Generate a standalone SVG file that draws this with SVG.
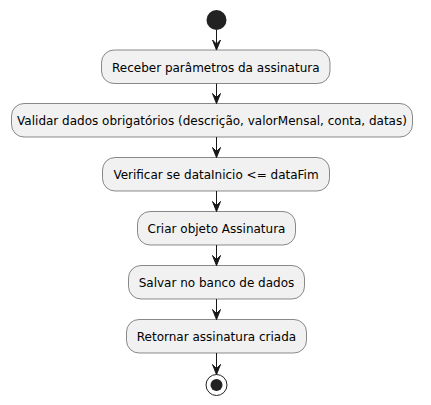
<svg xmlns="http://www.w3.org/2000/svg" width="431" height="405" viewBox="0 0 431 405">
<defs>
<style>
.box{fill:#F1F1F1;stroke:#181818;stroke-width:0.5}
.t{font-family:"DejaVu Sans",sans-serif;font-size:12px;fill:#000000;text-anchor:middle}
.ln{stroke:#181818;stroke-width:1;fill:none}
.ah{fill:#181818;stroke:#181818;stroke-width:1}
</style>
</defs>
<rect width="431" height="405" fill="#FFFFFF"/>
<g id="start"><circle cx="216.5" cy="20" r="10" fill="#222222"/></g>
<g id="n1"><rect class="box" x="101.5" y="50" width="228.5" height="33.5" rx="12.5"/><text class="t" x="215.75" y="71.5">Receber parâmetros da assinatura</text></g>
<g id="n2"><rect class="box" x="11.5" y="103.5" width="401" height="33.5" rx="12.5"/><text class="t" x="212" y="125">Validar dados obrigatórios (descrição, valorMensal, conta, datas)</text></g>
<g id="n3"><rect class="box" x="102.5" y="157.5" width="227" height="33.5" rx="12.5"/><text class="t" x="216" y="179">Verificar se dataInicio &lt;= dataFim</text></g>
<g id="n4"><rect class="box" x="137.5" y="211.5" width="158" height="33.5" rx="12.5"/><text class="t" x="216.5" y="233">Criar objeto Assinatura</text></g>
<g id="n5"><rect class="box" x="128.5" y="265.5" width="176" height="33.5" rx="12.5"/><text class="t" x="216.5" y="287">Salvar no banco de dados</text></g>
<g id="n6"><rect class="box" x="126.5" y="319.5" width="180" height="33.5" rx="12.5"/><text class="t" x="216.5" y="341">Retornar assinatura criada</text></g>
<g id="end"><circle cx="216.5" cy="385" r="10.5" fill="none" stroke="#222222" stroke-width="1"/><circle cx="216.5" cy="385" r="6" fill="#222222"/></g>
<g id="connectors">
<line class="ln" x1="216.5" y1="30" x2="216.5" y2="50"/><polygon class="ah" points="212.5,40 216.5,50 220.5,40 216.5,44"/>
<line class="ln" x1="216.5" y1="83.5" x2="216.5" y2="103.5"/><polygon class="ah" points="212.5,93.5 216.5,103.5 220.5,93.5 216.5,97.5"/>
<line class="ln" x1="216.5" y1="137" x2="216.5" y2="157.5"/><polygon class="ah" points="212.5,147.5 216.5,157.5 220.5,147.5 216.5,151.5"/>
<line class="ln" x1="216.5" y1="191" x2="216.5" y2="211.5"/><polygon class="ah" points="212.5,201.5 216.5,211.5 220.5,201.5 216.5,205.5"/>
<line class="ln" x1="216.5" y1="245" x2="216.5" y2="265.5"/><polygon class="ah" points="212.5,255.5 216.5,265.5 220.5,255.5 216.5,259.5"/>
<line class="ln" x1="216.5" y1="299" x2="216.5" y2="319.5"/><polygon class="ah" points="212.5,309.5 216.5,319.5 220.5,309.5 216.5,313.5"/>
<line class="ln" x1="216.5" y1="353" x2="216.5" y2="374.5"/><polygon class="ah" points="212.5,364.5 216.5,374.5 220.5,364.5 216.5,368.5"/>
</g>
</svg>
